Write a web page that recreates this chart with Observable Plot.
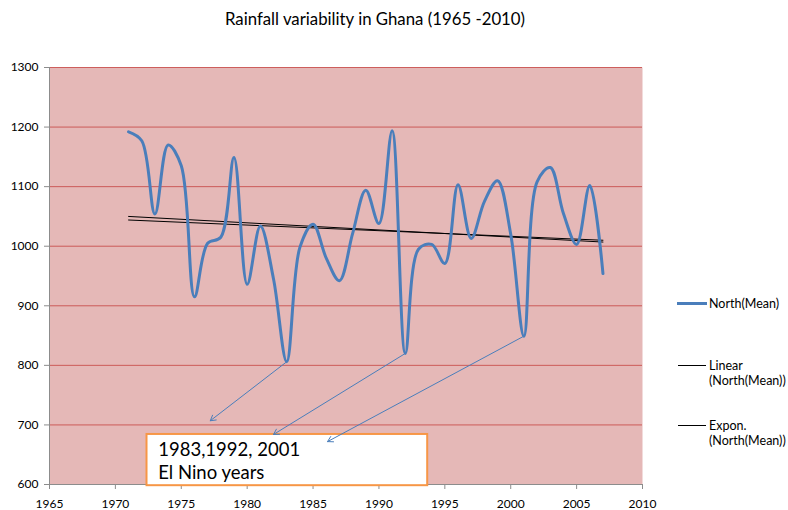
<!DOCTYPE html>
<html><head><meta charset="utf-8">
<script src="https://cdn.jsdelivr.net/npm/d3@7"></script>
<script src="https://cdn.jsdelivr.net/npm/@observablehq/plot@0.6"></script>
<style>
body{margin:0;background:#fff;font-family:Lato,"Open Sans",sans-serif;}
#wrap{position:relative;width:788px;height:510px;}
#title{position:absolute;left:0;width:750px;top:8px;text-align:center;font-size:16.8px;color:#000;}
.leg{position:absolute;left:709px;font-size:12.5px;line-height:15px;color:#000;white-space:nowrap;}
.sw{position:absolute;height:0;}
#chart svg{display:block;}
</style></head>
<body>
<div id="wrap">
  <div id="chart"></div>
  <div id="title">Rainfall variability in Ghana (1965 -2010)</div>
  <div class="sw" style="left:677px;top:302px;width:30px;border-top:3px solid #4A7EBB;"></div>
  <div class="leg" style="top:296px;">North(Mean)</div>
  <div class="sw" style="left:678px;top:365px;width:28px;border-top:1px solid #000;"></div>
  <div class="leg" style="top:358px;">Linear<br>(North(Mean))</div>
  <div class="sw" style="left:678px;top:425px;width:28px;border-top:1px solid #000;"></div>
  <div class="leg" style="top:418px;">Expon.<br>(North(Mean))</div>
</div>
<script>
const years = [1971,1972,1973,1974,1975,1976,1977,1978,1979,1980,1981,1982,1983,1984,1985,1986,1987,1988,1989,1990,1991,1992,1993,1994,1995,1996,1997,1998,1999,2000,2001,2002,2003,2004,2005,2006,2007];
const northMean = [1192,1177,1054,1170,1135,915,1005,1015,1149,936,1034,945,806,998,1037,980,942,1021,1094,1038,1194,820,995,1003,971,1103,1013,1075,1110,1020,849,1108,1132,1055,1003,1102,954];
const trendYears = [1971, 2007];
const linearTrend = [1050, 1007];
const exponTrend = [1044, 1010];
const xTicks = [1965,1970,1975,1980,1985,1990,1995,2000,2005,2010];
const yTicks = [600,700,800,900,1000,1100,1200,1300];
const elNinoYears = [1983, 1992, 2001];
const arrowEndX = [1977.2, 1982.0, 1986.1];
const arrowEndY = [707, 684, 672];
const noteBox = {x1: 1972.4, x2: 1993.7, y1: 684, y2: 598};
const noteLines = ["1983,1992, 2001", "El Nino years"];
const noteY = [657, 619];

const series = years.map((y, i) => ({year: y, value: northMean[i]}));
const trends = [
  ...trendYears.map((y, i) => ({k: "Linear", year: y, value: linearTrend[i]})),
  ...trendYears.map((y, i) => ({k: "Expon", year: y, value: exponTrend[i]}))
];
const arrows = elNinoYears.map((y, i) => ({
  x1: y, y1: northMean[years.indexOf(y)], x2: arrowEndX[i], y2: arrowEndY[i]
}));
const notes = noteLines.map((t, i) => ({t, x: noteBox.x1 + 0.85, y: noteY[i]}));

const plot = Plot.plot({
  width: 788, height: 510,
  marginLeft: 49, marginRight: 146, marginTop: 67, marginBottom: 26,
  style: {fontFamily: "Lato, 'Open Sans', sans-serif", fontSize: "12px", background: "transparent", overflow: "visible"},
  x: {domain: [1965, 2010]},
  y: {domain: [600, 1300]},
  marks: [
    Plot.frame({fill: "#E5B8B7", stroke: null}),
    Plot.gridY({ticks: yTicks.filter(v => v > 600), stroke: "#C9504E", strokeOpacity: 0.9, strokeWidth: 1}),
    Plot.ruleX([1965], {stroke: "#8C8C8C"}),
    Plot.ruleY([600], {stroke: "#8C8C8C"}),
    Plot.axisX({ticks: xTicks, tickFormat: d => String(d), tickSize: 5, tickPadding: 10, stroke: "#8C8C8C", fill: "#000", label: null}),
    Plot.axisY({ticks: yTicks, tickFormat: d => String(d), tickSize: 5, tickPadding: 6, stroke: "#8C8C8C", fill: "#000", label: null}),
    Plot.line(trends, {x: "year", y: "value", z: "k", stroke: "#000", strokeWidth: 1}),
    Plot.line(series, {x: "year", y: "value", stroke: "#4A7EBB", strokeWidth: 3, curve: "catmull-rom"}),
    Plot.rect([noteBox], {x1: "x1", x2: "x2", y1: "y1", y2: "y2", fill: "#fff", stroke: "#F79646", strokeWidth: 2}),
    Plot.arrow(arrows, {x1: "x1", y1: "y1", x2: "x2", y2: "y2", stroke: "#4A7EBB", strokeWidth: 1, headLength: 9, bend: 0}),
    Plot.text(notes, {x: "x", y: "y", text: "t", textAnchor: "start", fontSize: 18.5, fill: "#000"})
  ]
});
document.getElementById("chart").appendChild(plot);
</script>
</body></html>
